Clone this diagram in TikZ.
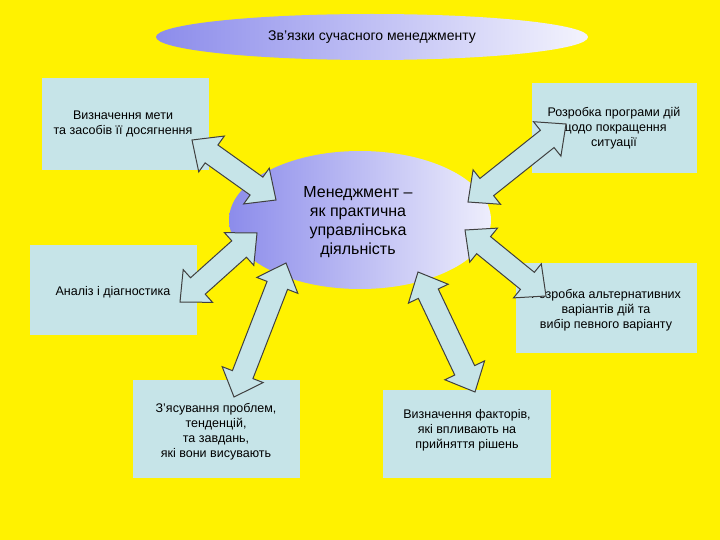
\documentclass[tikz,border=0pt]{standalone}
\usepackage{fontspec}
\setmainfont{Liberation Sans}
\usetikzlibrary{shapes.geometric,calc}
\definecolor{boxc}{RGB}{198,228,232}
\definecolor{lav}{RGB}{140,140,235}
\newcommand\dblarr[2]{%
  \coordinate (A) at (#1); \coordinate (B) at (#2);
  \coordinate (P) at ($(A)!24pt!(B)$); \coordinate (Q) at ($(B)!24pt!(A)$);
  \filldraw[arrsty] (A) -- ($(P)!22pt!90:(B)$) -- ($(P)!11pt!90:(B)$) -- ($(Q)!11pt!-90:(A)$)
   -- ($(Q)!22pt!-90:(A)$) -- (B) -- ($(Q)!22pt!90:(A)$) -- ($(Q)!11pt!90:(A)$)
   -- ($(P)!11pt!-90:(B)$) -- ($(P)!22pt!-90:(B)$) -- cycle;}
\begin{document}
\begin{tikzpicture}[x=1pt,y=-1pt,
  box/.style={align=center, font=\fontsize{12.5}{15}\selectfont},
  arrsty/.style={draw=black!75, line width=1pt, fill=boxc, line join=miter},
]
\fill[yellow] (0,0) rectangle (720,540);
\useasboundingbox (0,0) rectangle (720,540);
\node[ellipse, minimum width=432, minimum height=46, left color=lav, right color=white!90!lav, draw=none,
  font=\fontsize{14}{16}\selectfont] (title) at (372,37) {Зв’язки сучасного менеджменту};
\node[ellipse, minimum width=262, minimum height=138, left color=lav, right color=white!85!lav, draw=none] (c) at (360,220) {};

\fill[boxc] (42,78) rectangle (209,170);
\node[box] (b1) at (123,124) {Визначення мети\\та засобів її досягнення};
\fill[boxc] (532,83) rectangle (697,173);
\node[box] (b2) at (614,128) {Розробка програми дій\\щодо покращення\\ситуації};
\fill[boxc] (30,245) rectangle (197,335);
\node[box] (b3) at (113,292) {Аналіз і діагностика};
\fill[boxc] (516,263) rectangle (697,353);
\node[box] (b4) at (606,310) {Розробка альтернативних\\варіантів дій та\\вибір певного варіанту};
\fill[boxc] (133,380) rectangle (300,478);
\node[box] (b5) at (216,432) {З’ясування проблем,\\тенденцій,\\та завдань,\\які вони висувають};
\fill[boxc] (383,390) rectangle (551,478);
\node[box] (b6) at (467,430) {Визначення факторів,\\які впливають на\\прийняття рішень};

\dblarr{192,140}{276,200}
\dblarr{468,202}{566,124}
\dblarr{180,302}{257,233}
\dblarr{465,230}{546,296}
\dblarr{234,397}{286,263}
\dblarr{418,272}{475,392}

\node[align=center, font=\fontsize{16}{19}\selectfont] (ct) at (358,222) {Менеджмент –\\як практична\\управлінська\\діяльність};
\end{tikzpicture}
\end{document}
